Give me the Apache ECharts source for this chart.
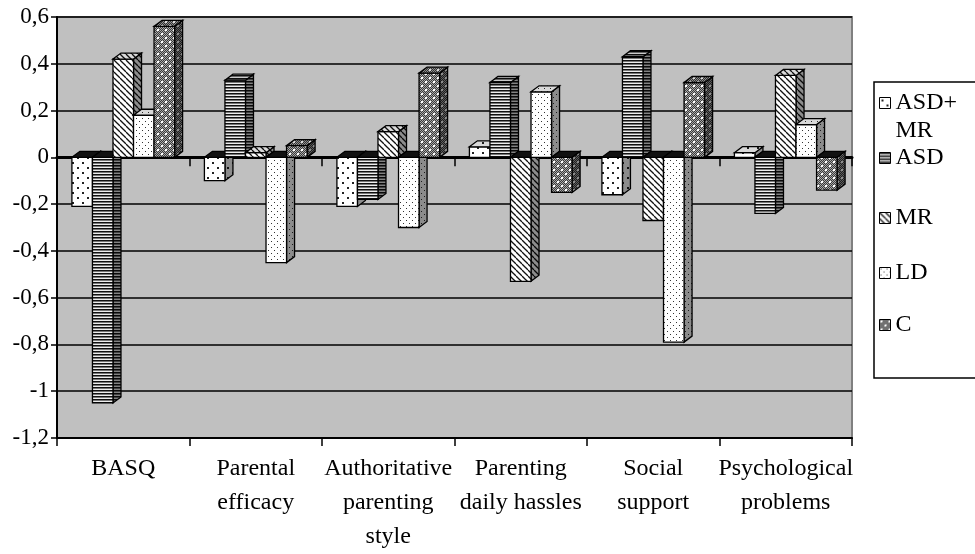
<!DOCTYPE html>
<html>
<head>
<meta charset="utf-8">
<script src="https://cdn.jsdelivr.net/npm/echarts@6/dist/echarts.min.js"></script>
<style>
  html, body { margin: 0; padding: 0; background: #fff; }
  #chart { width: 975px; height: 554px; }
</style>
</head>
<body>
<div id="chart"></div>
<script>
// data
const categories = ['BASQ', 'Parental\nefficacy', 'Authoritative\nparenting\nstyle', 'Parenting\ndaily hassles', 'Social\nsupport', 'Psychological\nproblems'];
const seriesNames = ['ASD+ MR', 'ASD', 'MR', 'LD', 'C'];
const asdMr = [-0.21, -0.10, -0.21, 0.045, -0.16, 0.02];
const asd = [-1.05, 0.33, -0.18, 0.32, 0.43, -0.24];
const mr = [0.42, 0.02, 0.11, -0.53, -0.27, 0.35];
const ld = [0.18, -0.45, -0.30, 0.28, -0.79, 0.14];
const cGroup = [0.56, 0.05, 0.36, -0.15, 0.32, -0.14];
const yMin = -1.2, yMax = 0.6, yStep = 0.2;

const seriesData = [asdMr, asd, mr, ld, cGroup];
const FONT = 'Liberation Serif';

// small canvas tiles used as fill patterns
function tile(w, h, draw, shade) {
  const cv = document.createElement('canvas');
  cv.width = w; cv.height = h;
  const ctx = cv.getContext('2d');
  draw(ctx, w, h);
  if (shade) {
    ctx.fillStyle = 'rgba(0,0,0,' + shade + ')';
    ctx.fillRect(0, 0, w, h);
  }
  return { image: cv, repeat: 'repeat' };
}

const drawers = [
  // sparse dots
  [10, 10, function (ctx) {
    ctx.fillStyle = '#fff'; ctx.fillRect(0, 0, 10, 10);
    ctx.fillStyle = '#222'; ctx.fillRect(2, 2, 2, 2); ctx.fillRect(7, 7, 2, 2);
  }],
  // horizontal stripes
  [4, 3, function (ctx) {
    ctx.fillStyle = '#eee'; ctx.fillRect(0, 0, 4, 3);
    ctx.fillStyle = '#111'; ctx.fillRect(0, 0, 4, 1);
    ctx.fillStyle = '#777'; ctx.fillRect(0, 1, 4, 1);
  }],
  // diagonal stripes
  [6, 6, function (ctx) {
    ctx.fillStyle = '#fff'; ctx.fillRect(0, 0, 6, 6);
    ctx.strokeStyle = '#111'; ctx.lineWidth = 1.3;
    [-6, 0, 6].forEach(function (o) {
      ctx.beginPath(); ctx.moveTo(o, 0); ctx.lineTo(o + 6, 6); ctx.stroke();
    });
  }],
  // dense dots
  [6, 6, function (ctx) {
    ctx.fillStyle = '#fff'; ctx.fillRect(0, 0, 6, 6);
    ctx.fillStyle = '#333'; ctx.fillRect(1, 1, 1, 1); ctx.fillRect(4, 4, 1, 1);
  }],
  // dark checker with white dots
  [8, 8, function (ctx) {
    for (let y = 0; y < 8; y++) {
      for (let x = 0; x < 8; x++) {
        ctx.fillStyle = (x + y) % 2 ? '#3a3a3a' : '#a8a8a8';
        ctx.fillRect(x, y, 1, 1);
      }
    }
    ctx.fillStyle = '#fff'; ctx.fillRect(1, 1, 2, 2); ctx.fillRect(5, 5, 2, 2);
  }]
];

const patterns = drawers.map(function (d) {
  return {
    front: tile(d[0], d[1], d[2]),
    top: tile(d[0], d[1], d[2], 0.15),
    side: tile(d[0], d[1], d[2], 0.45)
  };
});

const DX = 8, DY = 6;
function renderBar(params, api) {
  const idx = api.value(0), val = api.value(1);
  const p0 = api.coord([idx, 0]);
  const p1 = api.coord([idx, val]);
  const band = api.size([1, 0])[0];
  const w = band * 0.155;
  const x = p0[0] - w * 2.5 + w * params.seriesIndex;
  const yTop = Math.min(p0[1], p1[1]);
  const yBot = Math.max(p0[1], p1[1]);
  const pat = patterns[params.seriesIndex];
  const edge = { stroke: '#000', lineWidth: 1.3, lineJoin: 'miter' };
  const topFace = [[x, yTop], [x + DX, yTop - DY], [x + w + DX, yTop - DY], [x + w, yTop]];
  return {
    type: 'group',
    children: [
      {
        type: 'polygon',
        shape: { points: [[x + w, yTop], [x + w + DX, yTop - DY], [x + w + DX, yBot - DY], [x + w, yBot]] },
        style: Object.assign({ fill: pat.side }, edge)
      },
      {
        type: 'rect',
        shape: { x: x, y: yTop, width: w, height: yBot - yTop },
        style: Object.assign({ fill: pat.front }, edge)
      },
      {
        // bars below zero hang from the dark floor
        type: 'polygon',
        shape: { points: topFace },
        style: Object.assign({ fill: val > 0 ? pat.top : '#111' }, edge)
      }
    ]
  };
}

const legendCenters = [103, 158, 218, 273, 325];
const legendText = { fontFamily: FONT, fontSize: 24, color: '#000', lineHeight: 24 };

const chart = echarts.init(document.getElementById('chart'), null, { renderer: 'canvas' });
chart.setOption({
  animation: false,
  backgroundColor: '#fff',
  grid: {
    left: 57, right: 123, top: 17, bottom: 114,
    show: true, backgroundColor: '#c0c0c0', borderColor: '#808080', borderWidth: 2
  },
  graphic: [{
    type: 'rect',
    shape: { x: 874, y: 82, width: 130, height: 296 },
    style: { fill: '#fff', stroke: '#000', lineWidth: 1.5 },
    z: 1
  }],
  legend: seriesNames.map(function (name, i) {
    const first = i === 0;
    return {
      data: [name],
      orient: 'vertical',
      left: 879,
      top: first ? legendCenters[i] - 42 : legendCenters[i] - 12,
      padding: 0,
      icon: 'rect',
      itemWidth: 11,
      itemHeight: 11,
      itemGap: 0,
      selectedMode: false,
      itemStyle: { borderColor: '#000', borderWidth: 1 },
      // leading empty line keeps "ASD+" level with the swatch
      formatter: function (n) { return first ? '\n' + n.replace(' ', '\n') : n; },
      textStyle: first ? Object.assign({}, legendText, { lineHeight: 28 }) : legendText
    };
  }),
  xAxis: [
    {
      type: 'category',
      data: categories,
      axisLine: { onZero: true, lineStyle: { color: '#000', width: 3 } },
      axisTick: { show: true, length: 9, lineStyle: { color: '#000', width: 1.5 } },
      axisLabel: { show: false },
      splitLine: { show: false }
    },
    {
      type: 'category',
      data: categories,
      position: 'bottom',
      axisLine: { onZero: false, lineStyle: { color: '#000', width: 2 } },
      axisTick: { show: true, length: 8, lineStyle: { color: '#000', width: 1.5 } },
      axisLabel: { interval: 0, margin: 14, fontFamily: FONT, fontSize: 24, lineHeight: 34, color: '#000' },
      splitLine: { show: false }
    }
  ],
  yAxis: {
    type: 'value',
    min: yMin, max: yMax, interval: yStep,
    axisLine: { show: true, lineStyle: { color: '#000', width: 2 } },
    axisTick: { show: true, length: 6, lineStyle: { color: '#000', width: 1.5 } },
    axisLabel: {
      margin: 8, fontFamily: FONT, fontSize: 23, color: '#000',
      formatter: function (v) { return String(Math.round(v * 10) / 10).replace('.', ','); }
    },
    splitLine: { lineStyle: { color: '#000', width: 1.5 } }
  },
  series: seriesNames.map(function (name, s) {
    return {
      type: 'custom',
      name: name,
      xAxisIndex: 0,
      renderItem: renderBar,
      itemStyle: { color: patterns[s].front },
      encode: { x: 0, y: 1 },
      data: seriesData[s].map(function (v, i) { return [i, v]; })
    };
  })
});
</script>
</body>
</html>
